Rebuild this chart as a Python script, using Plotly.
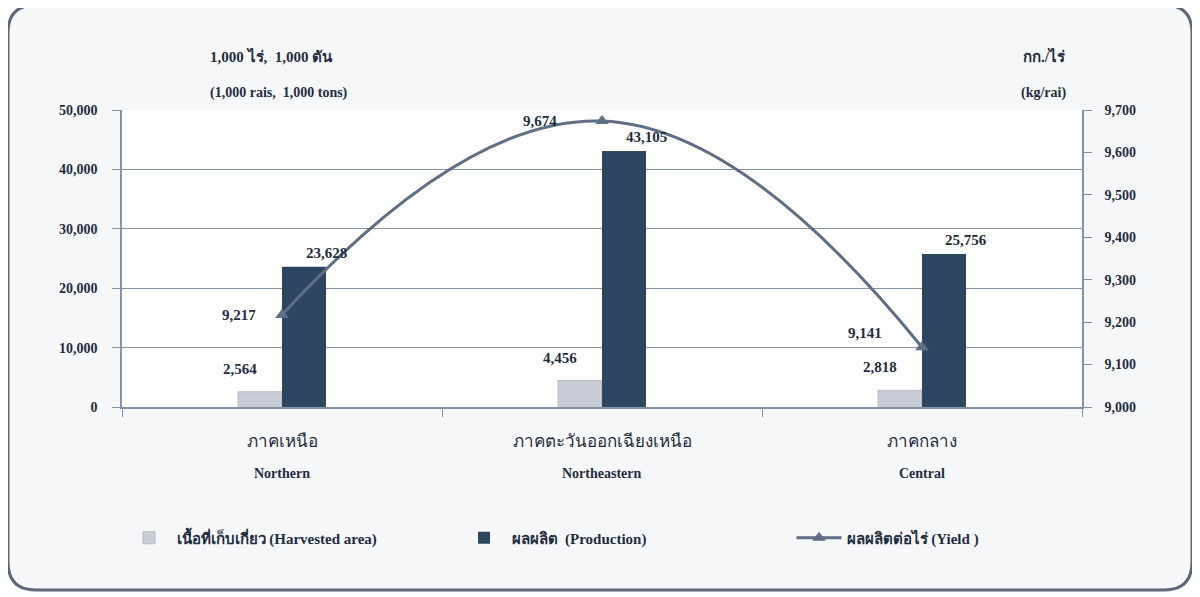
import plotly.graph_objects as go

categories = ["ภาคเหนือ", "ภาคตะวันออกเฉียงเหนือ", "ภาคกลาง"]
categories_en = ["Northern", "Northeastern", "Central"]
harvested = [2564, 4456, 2818]
production = [23628, 43105, 25756]
yield_kg = [9217, 9674, 9141]

left_ticks = [0, 10000, 20000, 30000, 40000, 50000]
right_ticks = [9000, 9100, 9200, 9300, 9400, 9500, 9600, 9700]

FONT = "Liberation Serif, Times New Roman, serif"
TXT = "#1f2d40"
C_HARV = "#c8ccd6"
C_PROD = "#2f4661"
C_LINE = "#5e6e84"
GRID = "#8593a6"

OFF = 8  # page body margin
W, H = 1200 - OFF, 597 - OFF
ML, MT = 122 - OFF, 110 - OFF
PW, PH = 960, 297
MR, MB = W - ML - PW, H - MT - PH


def px(x):
    return (x - OFF - ML) / PW


def py(y):
    return (MT + PH - (y - OFF)) / PH


fig = go.Figure()
fig.add_trace(go.Bar(
    x=categories, y=harvested, name="<b>เนื้อที่เก็บเกี่ยว (Harvested area)</b>",
    marker=dict(color=C_HARV, line=dict(color="#b7bcc8", width=1)),
))
fig.add_trace(go.Bar(
    x=categories, y=production, name="<b>ผลผลิต  (Production)</b>",
    marker=dict(color=C_PROD, line=dict(width=0)),
))
fig.add_trace(go.Scatter(
    x=categories, y=yield_kg, name="<b>ผลผลิตต่อไร่ (Yield )</b>", yaxis="y2",
    mode="lines+markers", line=dict(color=C_LINE, width=3, shape="spline", smoothing=1.3),
    marker=dict(symbol="triangle-up", size=12, color=C_LINE),
))

annotations = []
bw = PW / 3 * 0.1375
for c, v in zip(categories, harvested):
    annotations.append(dict(x=c, y=v, xref="x", yref="y", text=f"<b>{v:,}</b>", showarrow=False,
                            xshift=-bw + 2, yshift=23, font=dict(family=FONT, size=15, color=TXT)))
for c, v in zip(categories, production):
    annotations.append(dict(x=c, y=v, xref="x", yref="y", text=f"<b>{v:,}</b>", showarrow=False,
                            xshift=bw, yshift=14, font=dict(family=FONT, size=15, color=TXT)))
yl_shift = [(-43, 0), (-62, 0), (-57, 14)]
for c, v, (dx, dy) in zip(categories, yield_kg, yl_shift):
    annotations.append(dict(x=c, y=v, xref="x", yref="y2", text=f"<b>{v:,}</b>", showarrow=False,
                            xshift=dx, yshift=dy, font=dict(family=FONT, size=15, color=TXT)))

# unit titles
annotations += [
    dict(x=px(208), y=py(45), xref="paper", yref="paper", text="<b>1,000 ไร่,  1,000 ตัน</b>", showarrow=False,
         font=dict(family=FONT, size=15, color=TXT)),
    dict(x=px(208), y=py(83), xref="paper", yref="paper", text="<b>(1,000 rais,  1,000 tons)</b>", showarrow=False,
         font=dict(family=FONT, size=14, color=TXT)),
    dict(x=px(1068), y=py(45), xref="paper", yref="paper", text="<b>กก./ไร่</b>", showarrow=False,
         font=dict(family=FONT, size=15, color=TXT)),
    dict(x=px(1068), y=py(83), xref="paper", yref="paper", text="<b>(kg/rai)</b>", showarrow=False,
         font=dict(family=FONT, size=14, color=TXT)),
]

# english category labels
for c, e in zip(categories, categories_en):
    annotations.append(dict(x=c, y=py(483), xref="x", yref="paper", text=f"<b>{e}</b>", showarrow=False,
                            font=dict(family=FONT, size=14, color=TXT)))

# rounded frame
x0, x1, y0, y1, r = px(8), px(1192), py(590), py(5), 28
rx, ry = r / PW, r / PH
frame_path = (f"M {x0+rx},{y1} L {x1-rx},{y1} Q {x1},{y1} {x1},{y1-ry} "
              f"L {x1},{y0+ry} Q {x1},{y0} {x1-rx},{y0} L {x0+rx},{y0} "
              f"Q {x0},{y0} {x0},{y0+ry} L {x0},{y1-ry} Q {x0},{y1} {x0+rx},{y1} Z")
shapes = [
    dict(type="path", xref="paper", yref="paper", path=frame_path, layer="below",
         fillcolor="#f6f7f9", line=dict(color="#5f6878", width=3)),
    dict(type="rect", xref="paper", yref="paper", x0=0, x1=1, y0=0, y1=1, layer="below",
         fillcolor="white", line=dict(width=0)),
]

fig.update_layout(
    width=W, height=H,
    margin=dict(l=ML, r=MR, t=MT, b=MB),
    paper_bgcolor="white", plot_bgcolor="rgba(0,0,0,0)",
    barmode="group", bargap=0.725, bargroupgap=0,
    font=dict(family=FONT, color=TXT),
    shapes=shapes, annotations=annotations,
    showlegend=True,
    legend=dict(orientation="h", x=-0.0005, xanchor="left", y=py(538), yanchor="middle",
                entrywidth=275, itemwidth=45, bgcolor="rgba(0,0,0,0)",
                font=dict(family=FONT, size=15, color=TXT), traceorder="normal"),
    xaxis=dict(
        type="category", showline=True, linecolor=GRID, linewidth=1.5,
        ticks="outside", tickson="boundaries", ticklen=8, tickcolor=GRID,
        tickfont=dict(family=FONT, size=17, color=TXT), ticklabelstandoff=18,
        showgrid=False,
    ),
    yaxis=dict(
        range=[0, 50000], tickvals=left_ticks, ticktext=[f"<b>{v:,}</b>" for v in left_ticks],
        showline=True, linecolor=GRID, linewidth=1.5, ticks="outside", ticklen=8, tickcolor=GRID,
        showgrid=True, gridcolor=GRID, gridwidth=1, zeroline=False,
        tickfont=dict(family=FONT, size=14, color=TXT), ticklabelstandoff=12,
    ),
    yaxis2=dict(
        range=[9000, 9700], tickvals=right_ticks, ticktext=[f"<b>{v:,}</b>" for v in right_ticks],
        overlaying="y", side="right", showline=True, linecolor=GRID, linewidth=1.5,
        ticks="outside", ticklen=8, tickcolor=GRID, showgrid=False, zeroline=False,
        tickfont=dict(family=FONT, size=14, color=TXT), ticklabelstandoff=10,
    ),
)

fig.write_html("out.html")
